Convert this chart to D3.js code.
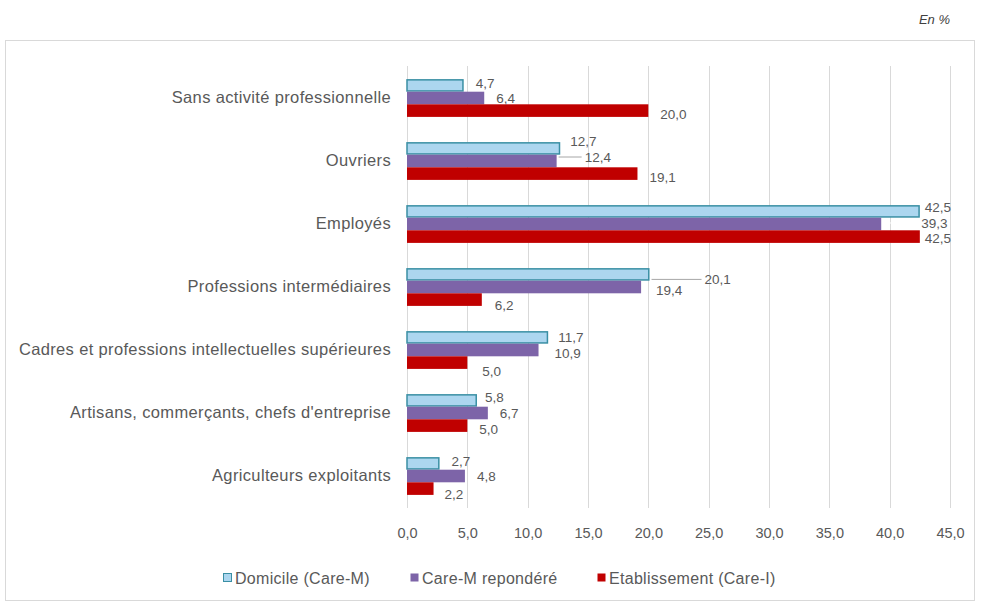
<!DOCTYPE html>
<html>
<head>
<meta charset="utf-8">
<script src="https://cdn.jsdelivr.net/npm/d3@7"></script>
<style>
  html, body { margin: 0; padding: 0; background: #ffffff; }
  svg { display: block; font-family: "Liberation Sans", Arial, sans-serif; }
</style>
</head>
<body>
<svg id="chart" width="982" height="607"></svg>
<script>
// ---- Data ----
const categories = [
  "Sans activité professionnelle",
  "Ouvriers",
  "Employés",
  "Professions intermédiaires",
  "Cadres et professions intellectuelles supérieures",
  "Artisans, commerçants, chefs d'entreprise",
  "Agriculteurs exploitants"
];
const seriesNames = ["Domicile (Care-M)", "Care-M repondéré", "Etablissement (Care-I)"];
const domicile       = [4.7, 12.7, 42.5, 20.1, 11.7, 5.8, 2.7];
const careMRepondere = [6.4, 12.4, 39.3, 19.4, 10.9, 6.7, 4.8];
const etablissement  = [20.0, 19.1, 42.5, 6.2, 5.0, 5.0, 2.2];
const tickValues = [0, 5, 10, 15, 20, 25, 30, 35, 40, 45];
const unitLabel = "En %";

// ---- Styles ----
const fills   = ["#acd6ef", "#7d64a8", "#c00000"];
const strokes = ["#3a8fa4", "none", "none"];
const textColor = "#595959";
const gridColor = "#d9d9d9";

// label placement tweaks (layout only)
const defaultDx = 12;
const defaultDy = [-2, 0, 4];
const labelNudges = {
  "Ouvriers|0": { dx: 10, dy: -7 },
  "Ouvriers|1": { dx: 28, dy: -4, leader: "#a6a6a6" },
  "Employés|0": { dx: 5, dy: -4 },
  "Employés|1": { dx: 40, dy: -1, leader: "#ffffff" },
  "Employés|2": { dx: 5, dy: 2 },
  "Professions intermédiaires|0": { dx: 55, dy: 5, leader: "#a6a6a6" },
  "Professions intermédiaires|1": { dx: 15, dy: 3 },
  "Professions intermédiaires|2": { dx: 13, dy: 6 },
  "Cadres et professions intellectuelles supérieures|0": { dx: 10, dy: 0 },
  "Cadres et professions intellectuelles supérieures|1": { dx: 16, dy: 3 },
  "Cadres et professions intellectuelles supérieures|2": { dx: 15, dy: 9 },
  "Artisans, commerçants, chefs d'entreprise|0": { dx: 8, dy: -3 },
  "Agriculteurs exploitants|2": { dx: 11, dy: 6 }
};

const fmt = v => d3.format(".1f")(v).replace(".", ",");

const svg = d3.select("#chart");
svg.append("rect").attr("width", 982).attr("height", 607).attr("fill", "#ffffff");

// outer frame
svg.append("rect")
  .attr("x", 5.5).attr("y", 40.5).attr("width", 969).attr("height", 560)
  .attr("fill", "none").attr("stroke", "#d9d9d9").attr("stroke-width", 1);

// unit label
svg.append("text")
  .attr("x", 950).attr("y", 24)
  .attr("text-anchor", "end")
  .attr("font-size", 13).attr("font-style", "italic")
  .attr("fill", "#404040")
  .text(unitLabel);

// ---- Scales ----
const x = d3.scaleLinear().domain([0, 45]).range([407, 950]);
const y = d3.scaleBand().domain(categories).range([66.5, 507.5]).paddingInner(0.4).paddingOuter(0.2);
const ySub = d3.scaleBand().domain([0, 1, 2]).range([0, y.bandwidth()]);

// gridlines
svg.append("g")
  .selectAll("line")
  .data(tickValues)
  .join("line")
  .attr("x1", d => Math.round(x(d)) + 0.5)
  .attr("x2", d => Math.round(x(d)) + 0.5)
  .attr("y1", 66)
  .attr("y2", 508)
  .attr("stroke", gridColor)
  .attr("stroke-width", 1);

// x axis labels
const xAxis = svg.append("g")
  .attr("transform", "translate(0,528)")
  .call(d3.axisBottom(x).tickValues(tickValues).tickSize(0).tickPadding(0).tickFormat(fmt));
xAxis.select(".domain").remove();
xAxis.selectAll("text")
  .attr("font-size", 14.5)
  .attr("font-family", "Liberation Sans, Arial, sans-serif")
  .attr("fill", textColor)
  .attr("dy", "0.71em");

// y axis labels
const yAxis = svg.append("g")
  .attr("transform", "translate(391,0)")
  .call(d3.axisLeft(y).tickSize(0).tickPadding(0));
yAxis.select(".domain").remove();
yAxis.selectAll("text")
  .attr("font-size", 16.5)
  .attr("letter-spacing", "0.35px")
  .attr("font-family", "Liberation Sans, Arial, sans-serif")
  .attr("fill", textColor);

// ---- Bars ----
const seriesValues = [domicile, careMRepondere, etablissement];
const rows = [];
categories.forEach((c, i) => {
  seriesValues.forEach((vals, s) => rows.push({ cat: c, s, v: vals[i] }));
});

svg.append("g")
  .selectAll("rect")
  .data(rows)
  .join("rect")
  .attr("x", x(0))
  .attr("y", d => y(d.cat) + ySub(d.s) + (d.s === 0 ? 0.75 : 0))
  .attr("width", d => x(d.v) - x(0) - (d.s === 0 ? 0.75 : 0))
  .attr("height", d => ySub.bandwidth() - (d.s === 0 ? 1.5 : 0))
  .attr("fill", d => fills[d.s])
  .attr("stroke", d => strokes[d.s])
  .attr("stroke-width", d => d.s === 0 ? 1.5 : 0);

// ---- Value labels ----
const lblG = svg.append("g");
rows.forEach(d => {
  const n = labelNudges[d.cat + "|" + d.s] || {};
  const dx = n.dx !== undefined ? n.dx : defaultDx;
  const dy = n.dy !== undefined ? n.dy : defaultDy[d.s];
  const cy = y(d.cat) + ySub(d.s) + ySub.bandwidth() / 2 + dy;
  const ex = x(d.v);
  if (n.leader) {
    lblG.append("line")
      .attr("x1", ex + 2).attr("x2", ex + dx - 3)
      .attr("y1", cy).attr("y2", cy)
      .attr("stroke", n.leader).attr("stroke-width", 1);
  }
  lblG.append("text")
    .attr("x", ex + dx)
    .attr("y", cy)
    .attr("dy", "0.35em")
    .attr("font-size", 13.5)
    .attr("fill", textColor)
    .text(fmt(d.v));
});

// ---- Legend ----
const legendX = [223, 410, 597];
const legend = svg.append("g").attr("transform", "translate(0,578)");
seriesNames.forEach((name, s) => {
  const g = legend.append("g").attr("transform", `translate(${legendX[s]},0)`);
  g.append("rect")
    .attr("x", 0.5).attr("y", -4.5).attr("width", 8).attr("height", 8)
    .attr("fill", fills[s])
    .attr("stroke", s === 0 ? strokes[0] : "none");
  g.append("text")
    .attr("x", 12).attr("y", 0).attr("dy", "0.35em")
    .attr("font-size", 16)
    .attr("letter-spacing", "0.3px")
    .attr("fill", textColor)
    .text(name);
});
</script>
</body>
</html>
